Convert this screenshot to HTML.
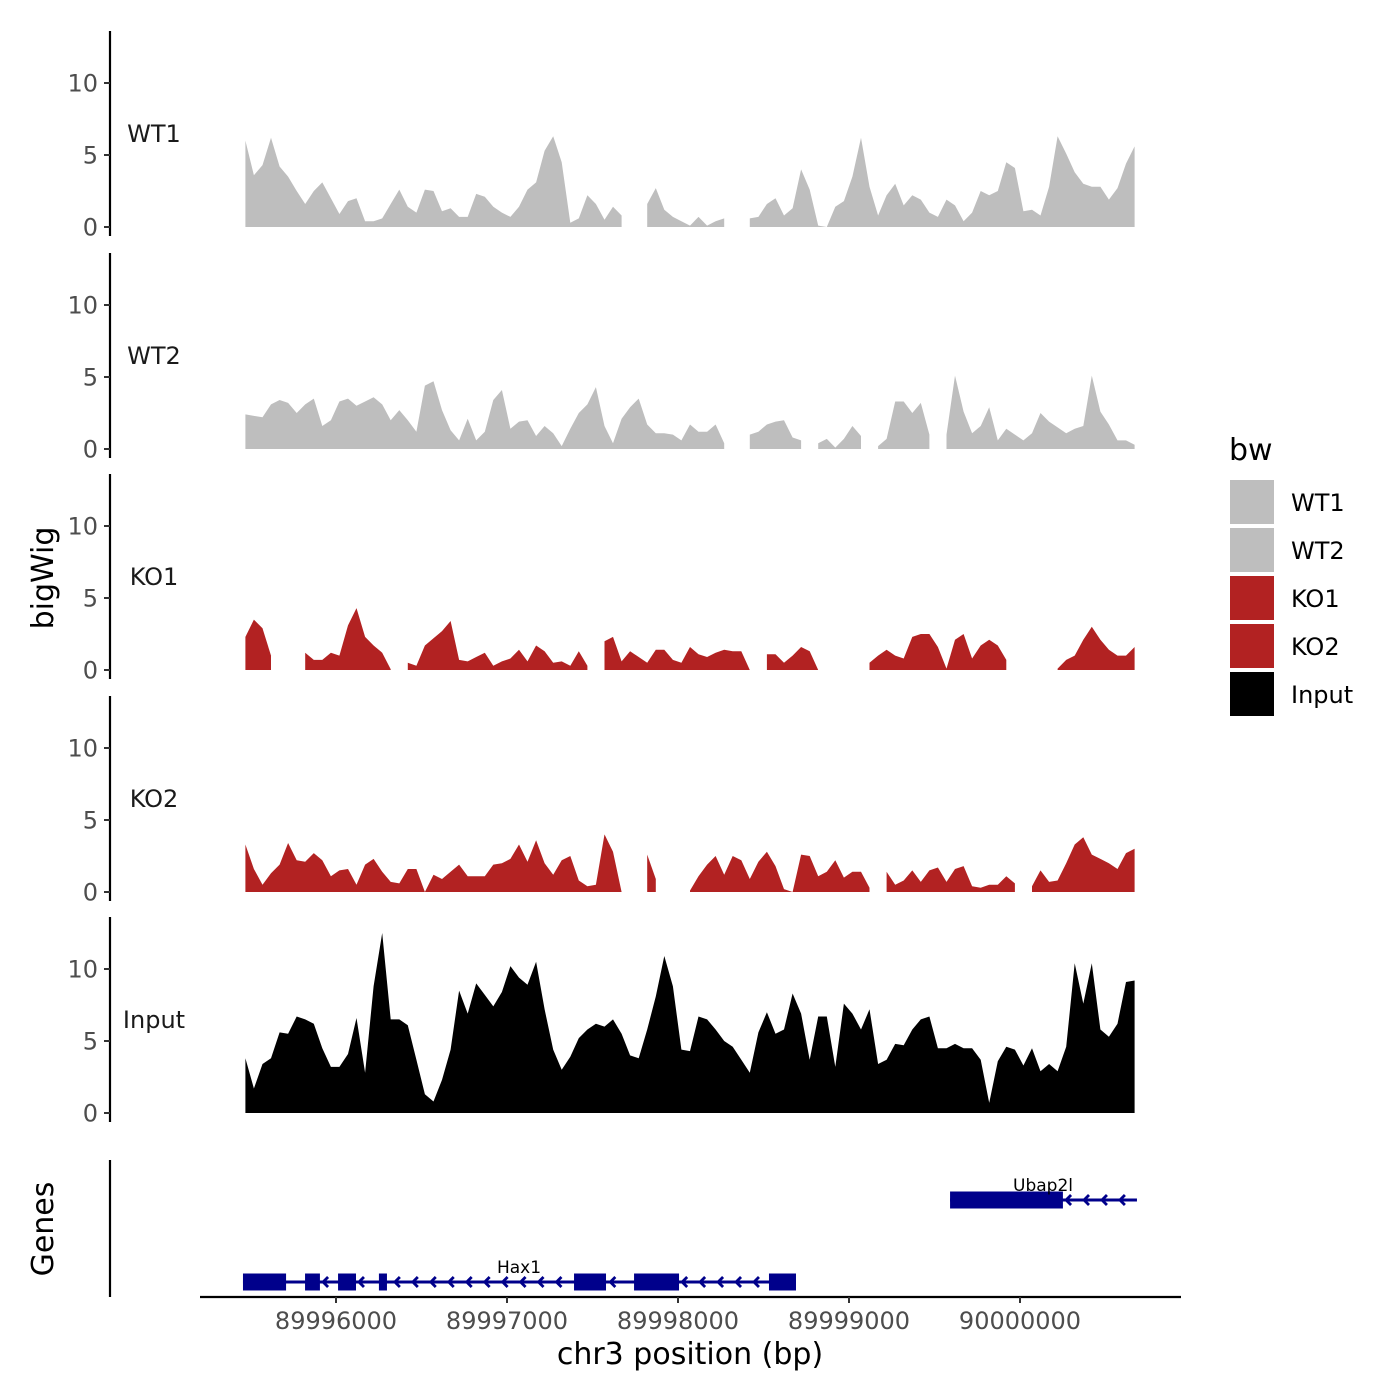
<!DOCTYPE html>
<html><head><meta charset="utf-8">
<style>
html,body{margin:0;padding:0;background:#fff;}
svg{display:block;font-family:"DejaVu Sans","Liberation Sans",sans-serif;}
</style></head>
<body>
<svg id="chart" width="1400" height="1400" viewBox="0 0 1400 1400" xmlns="http://www.w3.org/2000/svg"></svg>
<script>
// ---- data ----
const startBp = 89995470;
const stepBp = 50;
const trackNames = ["WT1","WT2","KO1","KO2","Input"];
const wt1Values = [6.0,3.6,4.3,6.2,4.2,3.5,2.5,1.6,2.5,3.1,2.0,0.9,1.8,2.0,0.4,0.4,0.6,1.6,2.6,1.4,1.0,2.6,2.5,1.1,1.3,0.7,0.7,2.3,2.1,1.4,1.0,0.7,1.4,2.6,3.1,5.3,6.3,4.5,0.3,0.6,2.2,1.6,0.5,1.4,0.8,null,null,1.6,2.7,1.2,0.7,0.4,0.1,0.7,0.1,0.4,0.6,null,null,0.6,0.7,1.6,2.0,0.8,1.3,4.0,2.6,0.1,0,1.4,1.8,3.5,6.2,2.8,0.8,2.2,3.0,1.5,2.2,1.9,1.0,0.7,1.9,1.5,0.4,1.0,2.5,2.2,2.5,4.5,4.1,1.1,1.2,0.8,2.8,6.3,5.1,3.8,3.0,2.8,2.8,1.9,2.7,4.4,5.6];
const wt2Values = [2.4,2.3,2.2,3.1,3.4,3.2,2.5,3.1,3.5,1.6,2.0,3.3,3.5,3.0,3.3,3.6,3.1,2.0,2.7,2.0,1.2,4.4,4.7,2.7,1.3,0.6,2.1,0.6,1.2,3.4,4.1,1.4,1.9,2.0,0.9,1.6,1.1,0.2,1.4,2.5,3.1,4.3,1.6,0.4,2.1,2.9,3.5,1.7,1.1,1.1,1.0,0.6,1.7,1.2,1.2,1.7,0.4,null,null,1.0,1.2,1.7,1.9,2.0,0.8,0.6,null,0.4,0.7,0.1,0.7,1.6,0.9,null,0.2,0.7,3.3,3.3,2.5,3.2,1.0,null,1.0,5.1,2.6,1.1,1.6,2.9,0.6,1.4,1.0,0.6,1.1,2.5,1.9,1.5,1.1,1.4,1.6,5.1,2.6,1.7,0.6,0.6,0.3];
const ko1Values = [2.3,3.5,2.9,1.0,null,null,null,1.2,0.7,0.7,1.2,1.0,3.1,4.3,2.3,1.7,1.2,0.05,null,0.5,0.3,1.7,2.2,2.7,3.4,0.7,0.6,0.9,1.2,0.3,0.6,0.8,1.4,0.6,1.7,1.3,0.5,0.6,0.3,1.3,0.3,null,2.0,2.3,0.6,1.3,0.9,0.5,1.4,1.4,0.7,0.5,1.6,1.1,0.9,1.2,1.4,1.3,1.3,0,null,1.1,1.1,0.5,1.0,1.6,1.3,0,null,null,null,null,null,0.5,1.0,1.4,1.0,0.8,2.3,2.5,2.5,1.6,0.1,2.1,2.5,0.8,1.7,2.1,1.7,0.7,null,null,null,null,null,0.1,0.7,1.0,2.1,3.0,2.1,1.4,1.0,1.0,1.6];
const ko2Values = [3.3,1.6,0.5,1.3,1.9,3.4,2.2,2.1,2.7,2.2,1.1,1.5,1.6,0.5,1.9,2.3,1.4,0.7,0.6,1.6,1.6,0,1.2,0.9,1.4,1.9,1.1,1.1,1.1,1.9,2.0,2.3,3.3,2.1,3.6,2.0,1.2,2.2,2.5,0.8,0.4,0.5,4.0,2.8,0,null,null,2.6,0.9,null,null,null,0.1,1.1,1.9,2.5,1.2,2.5,2.2,0.9,2.1,2.8,1.8,0.2,0,2.6,2.5,1.1,1.4,2.2,1.0,1.4,1.4,0.3,null,1.4,0.5,0.8,1.5,0.7,1.5,1.7,0.7,1.6,1.8,0.4,0.3,0.5,0.5,1.1,0.6,null,0.4,1.5,0.7,0.8,2.0,3.3,3.8,2.6,2.3,2.0,1.6,2.7,3.0];
const inputValues = [3.8,1.7,3.4,3.8,5.6,5.5,6.7,6.5,6.2,4.5,3.2,3.2,4.1,6.6,2.8,8.8,12.5,6.5,6.5,6.1,3.7,1.3,0.8,2.3,4.4,8.5,6.9,9.0,8.2,7.4,8.4,10.2,9.4,8.9,10.5,7.2,4.4,3.0,3.9,5.2,5.8,6.2,6.0,6.5,5.5,4.0,3.8,5.8,8.1,10.9,8.8,4.4,4.3,6.7,6.5,5.8,5.0,4.6,3.7,2.8,5.6,7.0,5.5,5.8,8.3,6.9,3.7,6.7,6.7,3.2,7.6,6.9,5.8,7.2,3.4,3.7,4.8,4.7,5.8,6.5,6.7,4.5,4.5,4.8,4.5,4.5,3.7,0.7,3.6,4.6,4.4,3.3,4.5,2.9,3.4,2.9,4.6,10.4,7.6,10.4,5.8,5.3,6.2,9.1,9.2];
const trackColors = ["#bebebe","#bebebe","#b22222","#b22222","#000000"];
const yTicks = [0,5,10];
const xTicks = [89996000,89997000,89998000,89999000,90000000];
const hax1Span = [89995456,89998690];
const hax1Exons = [[89995456,89995708],[89995819,89995906],[89996012,89996117],[89996251,89996298],[89997392,89997579],[89997743,89998006],[89998532,89998690]];
const ubap2lSpan = [89999591,90000684];
const ubap2lExons = [[89999591,90000251]];
const legendLabels = ["WT1","WT2","KO1","KO2","Input"];

// ---- scales ----
const NS = "http://www.w3.org/2000/svg";
const svg = document.getElementById("chart");
function xScale(bp){ return 336 + (bp - 89996000) * 0.171; }
const panelZero = [227, 449, 670, 892, 1113];
function yScale(panel, v){ return panelZero[panel] - v * 14.4; }
function mk(tag, attrs, parent){
  const e = document.createElementNS(NS, tag);
  for (const k in attrs) e.setAttribute(k, attrs[k]);
  (parent || svg).appendChild(e);
  return e;
}
const allSeries = [wt1Values, wt2Values, ko1Values, ko2Values, inputValues];

// ---- tracks ----
allSeries.forEach((vals, p) => {
  const g = mk("g", {});
  
  
  let seg = [];
  const segs = [];
  vals.forEach((v, i) => {
    if (v === null) { if (seg.length) segs.push(seg); seg = []; }
    else seg.push([xScale(startBp + i * stepBp), yScale(p, v)]);
  });
  if (seg.length) segs.push(seg);
  segs.forEach(s => {
    const base = yScale(p, 0);
    let d = "M" + s[0][0].toFixed(1) + "," + base;
    s.forEach(pt => { d += " L" + pt[0].toFixed(1) + "," + pt[1].toFixed(1); });
    d += " L" + s[s.length-1][0].toFixed(1) + "," + base + " Z";
    const a = mk("path", {d: d, fill: trackColors[p], stroke: "none"}, g);
    
    
  });
  const top = panelZero[p] - 196, bot = panelZero[p] + 9;
  const ax = mk("line", {x1:110, x2:110, y1:top, y2:bot, stroke:"#000", "stroke-width":2.2}, g);
  
  
  yTicks.forEach(t => {
    const y = yScale(p, t);
    const tk = mk("line", {x1:104, x2:110, y1:y, y2:y, stroke:"#333", "stroke-width":2}, g);
    
    
    const tl = mk("text", {x:98, y:y+8.5, "text-anchor":"end", "font-size":24, fill:"#4d4d4d"}, g);
    tl.textContent = t;
    
    
  });
  const lab = mk("text", {x:154, y:panelZero[p]-85, "text-anchor":"middle", "font-size":24, fill:"#1a1a1a"}, g);
  lab.textContent = trackNames[p];
  
  
});

// ---- genes ----
const gg = mk("g", {});


function drawGene(name, span, exons, y, labelX){
  const g = mk("g", {}, gg);
  
  
  mk("line", {x1:xScale(span[0]), x2:xScale(span[1]), y1:y, y2:y, stroke:"#00008b", "stroke-width":3}, g);
  for (let bp = span[0] + 60; bp < span[1]; bp += 105){
    if (exons.some(e => bp > e[0]-40 && bp < e[1]+20)) continue;
    const x = xScale(bp);
    mk("path", {d:"M"+(x+3)+","+(y-5)+" L"+(x-2)+","+y+" L"+(x+3)+","+(y+5), fill:"none", stroke:"#00008b", "stroke-width":2.8}, g);
  }
  exons.forEach(e => {
    const r = mk("rect", {x:xScale(e[0]), y:y-8.5, width:xScale(e[1])-xScale(e[0]), height:17, fill:"#00008b"}, g);
    
    
  });
  const t = mk("text", {x:labelX, y:y-9, "text-anchor":"middle", "font-size":17, fill:"#000"}, g);
  t.textContent = name;
  
  
}
drawGene("Hax1", hax1Span, hax1Exons, 1282, 519);
drawGene("Ubap2l", ubap2lSpan, ubap2lExons, 1200, 1043);

const gax = mk("line", {x1:110, x2:110, y1:1160, y2:1297, stroke:"#000", "stroke-width":2.2});



// ---- x axis ----
const xa = mk("line", {x1:200, x2:1181, y1:1297, y2:1297, stroke:"#000", "stroke-width":2.2});


xTicks.forEach(t => {
  const x = xScale(t);
  const tk = mk("line", {x1:x, x2:x, y1:1297, y2:1303, stroke:"#333", "stroke-width":2});
  
  
  const tl = mk("text", {x:x, y:1329, "text-anchor":"middle", "font-size":24, fill:"#4d4d4d"});
  tl.textContent = t;
  
  
});
const xt = mk("text", {x:690, y:1364, "text-anchor":"middle", "font-size":30, fill:"#000"});
xt.textContent = "chr3 position (bp)";



const yt = mk("text", {x:0, y:0, "text-anchor":"middle", "font-size":30, fill:"#000", transform:"translate(53,578) rotate(-90)"});
yt.textContent = "bigWig";


const gt = mk("text", {x:0, y:0, "text-anchor":"middle", "font-size":30, fill:"#000", transform:"translate(53,1229) rotate(-90)"});
gt.textContent = "Genes";



// ---- legend ----
const lg = mk("g", {});


const lt = mk("text", {x:1229, y:460, "font-size":30, fill:"#000"}, lg);
lt.textContent = "bw";


legendLabels.forEach((name, i) => {
  const y = 480 + i * 48;
  const r = mk("rect", {x:1230, y:y, width:44, height:44, fill:trackColors[i]}, lg);
  
  
  const t = mk("text", {x:1291, y:y+31, "font-size":24, fill:"#000"}, lg);
  t.textContent = name;
  
  
});
</script>
</body></html>
